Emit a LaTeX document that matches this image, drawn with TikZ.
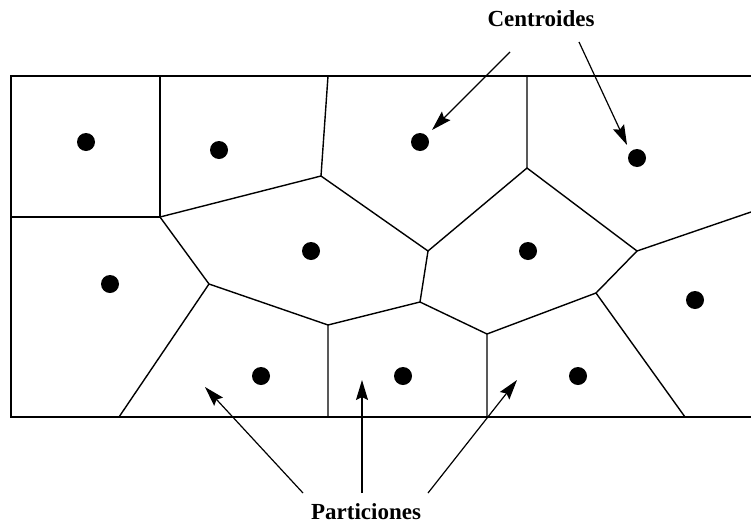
\documentclass[tikz,border=0pt]{standalone}
\usepackage{fontspec}
\setmainfont{Liberation Serif}
\usetikzlibrary{arrows.meta}
\begin{document}
\begin{tikzpicture}[x=1pt,y=-1pt,>={Stealth[length=20pt,width=12pt,inset=3pt]},
        every node/.style={font=\bfseries\fontsize{23}{27}\selectfont},
        punto/.style={circle,fill,inner sep=0pt,minimum size=18pt},
        borde/.style={line width=1.4pt}]
        \useasboundingbox (0,0) rectangle (751,525);
        % vertices de las particiones
        \coordinate (a) at (160,76);
        \coordinate (b) at (160,217);
        \coordinate (l1) at (11,217);
        \coordinate (c) at (321,176);
        \coordinate (c0) at (328,76);
        \coordinate (d) at (428,251);
        \coordinate (e) at (527,168);
        \coordinate (e0) at (527,76);
        \coordinate (f) at (637,251);
        \coordinate (r1) at (751,212);
        \coordinate (g) at (596,293);
        \coordinate (g0) at (685,417);
        \coordinate (h) at (487,334);
        \coordinate (h0) at (487,417);
        \coordinate (i) at (420,302);
        \coordinate (j) at (328,325);
        \coordinate (j0) at (328,417);
        \coordinate (k) at (209,284);
        \coordinate (k0) at (119,417);
        \draw[line width=1.8pt] (751,76) -- (11,76) -- (11,417) -- (751,417);
        \draw[borde] (a) -- (b) -- (l1);
        \draw[borde] (b) -- (c) -- (c0);
        \draw[borde] (c) -- (d) -- (e) -- (e0);
        \draw[borde] (e) -- (f) -- (r1);
        \draw[borde] (f) -- (g) -- (g0);
        \draw[borde] (g) -- (h) -- (h0);
        \draw[borde] (h) -- (i) -- (d);
        \draw[borde] (i) -- (j) -- (j0);
        \draw[borde] (j) -- (k) -- (b);
        \draw[borde] (k) -- (k0);
        % centroides
        \node[punto] (p1) at (86,142) {};
        \node[punto] (p2) at (219,150) {};
        \node[punto] (p3) at (420,142) {};
        \node[punto] (p4) at (637,158) {};
        \node[punto] (p5) at (110,284) {};
        \node[punto] (p6) at (311,251) {};
        \node[punto] (p7) at (528,251) {};
        \node[punto] (p8) at (695,300) {};
        \node[punto] (p9) at (261,376) {};
        \node[punto] (p10) at (403,376) {};
        \node[punto] (p11) at (578,376) {};
        % etiquetas
        \node (cen) at (541,19) {Centroides};
        \node (par) at (366,512) {Particiones};
        \coordinate (cs1) at (510,52);
        \coordinate (cs2) at (579,42);
        \coordinate (ce1) at (432,130);
        \coordinate (ce2) at (627,145);
        \coordinate (ps1) at (303,493);
        \coordinate (ps2) at (362,493);
        \coordinate (ps3) at (428,493);
        \coordinate (pe1) at (205,387);
        \coordinate (pe2) at (362,380);
        \coordinate (pe3) at (517,380);
        \draw[->,line width=1.2pt] (cs1) -- (ce1);
        \draw[->,line width=1.2pt] (cs2) -- (ce2);
        \draw[->,line width=1.2pt] (ps1) -- (pe1);
        \draw[->,line width=1.2pt] (ps2) -- (pe2);
        \draw[->,line width=1.2pt] (ps3) -- (pe3);
    \end{tikzpicture}
\end{document}
